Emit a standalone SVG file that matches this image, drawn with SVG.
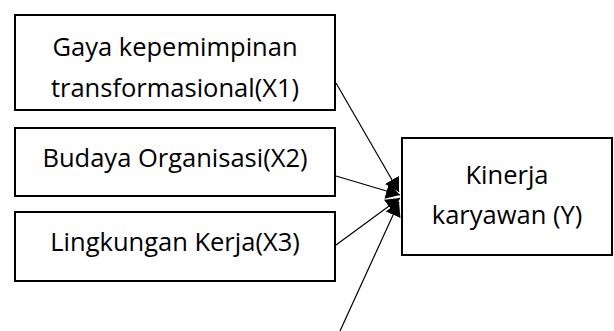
<svg xmlns="http://www.w3.org/2000/svg" width="614" height="331" viewBox="0 0 614 331">
<style>
.box{fill:#fff;stroke:#000;stroke-width:2}
.t{font-family:"Open Sans","Noto Sans","DejaVu Sans",sans-serif;font-size:25.5px;fill:#000;text-anchor:middle}
.c{stroke:#000;stroke-width:1.2;fill:none;marker-end:url(#ah)}
</style>
<defs>
<marker id="ah" markerUnits="userSpaceOnUse" markerWidth="16" markerHeight="16" refX="14" refY="8" orient="auto">
<path d="M0,0 L14,8 L0,16 Z" fill="#000"/>
</marker>
</defs>
<rect width="614" height="331" fill="#fff"/>
<g id="x1">
<rect class="box" x="15" y="15" width="320" height="95"/>
<text class="t" x="175" y="56">Gaya kepemimpinan</text>
<text class="t" x="175" y="97">transformasional(X1)</text>
</g>
<g id="x2">
<rect class="box" x="15" y="128" width="320" height="68"/>
<text class="t" x="175" y="167">Budaya Organisasi(X2)</text>
</g>
<g id="x3">
<rect class="box" x="15" y="212" width="320" height="69"/>
<text class="t" x="175" y="251">Lingkungan Kerja(X3)</text>
</g>
<g id="y">
<rect class="box" x="402" y="138" width="210" height="117"/>
<text class="t" x="507" y="184">Kinerja</text>
<text class="t" x="507" y="224">karyawan (Y)</text>
</g>
<g id="connectors">
<line class="c" x1="336" y1="83" x2="399" y2="192"/>
<line class="c" x1="336" y1="176" x2="400" y2="195"/>
<line class="c" x1="336" y1="245" x2="400" y2="198"/>
<line class="c" x1="340" y1="331" x2="399" y2="202"/>
</g>
</svg>
